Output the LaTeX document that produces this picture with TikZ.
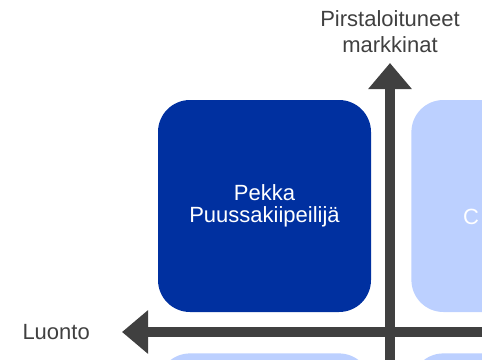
\documentclass[tikz,border=0pt]{standalone}
\usepackage{fontspec}
\setmainfont{Liberation Sans}
\usetikzlibrary{arrows.meta}
\usetikzlibrary{positioning}
\definecolor{tummasininen}{RGB}{0,48,160}
\definecolor{vaaleasininen}{RGB}{188,208,255}
\definecolor{akseliharmaa}{RGB}{64,64,64}

\begin{document}
\begin{tikzpicture}[x=1pt,y=-1pt,
    ruutu/.style={rounded corners=32pt, minimum width=213pt, minimum height=212pt, inner sep=0pt, align=center, text=white, font=\fontsize{22}{22}\selectfont},
    akseliteksti/.style={text=akseliharmaa, inner sep=0pt, align=center, font=\fontsize{22}{26}\selectfont},
    akselinuoli/.style={akseliharmaa, line width=10pt, -{Triangle[length=26pt,width=42pt]}}]
\useasboundingbox (0,0) rectangle (482,359);
\clip (0,0) rectangle (482,359);
% ruudut
\node[ruutu, fill=tummasininen] (pekka) at (264.5,206) {Pekka\\Puussakiipeilij\"a};
\node[ruutu, fill=vaaleasininen, right=40pt of pekka] (oikea) {};
\node[ruutu, fill=vaaleasininen, below=41pt of pekka] (alavasen) {};
\node[ruutu, fill=vaaleasininen, below=41pt of oikea] (alaoikea) {};
\node[text=white, inner sep=0pt, anchor=base west, font=\fontsize{22}{22}\selectfont] (c) at (463,224) {C};
% akselit
\coordinate (ylos) at (390,63);
\coordinate (ala) at (390,380);
\coordinate (vasen) at (122,332);
\coordinate (oikealla) at (500,332);
\draw[akselinuoli] (ala) -- (ylos);
\draw[akselinuoli] (oikealla) -- (vasen);
\node[akseliteksti, above=10pt of ylos] (markkinat) {Pirstaloituneet\\markkinat};
\node[akseliteksti, left=32pt of vasen] (luonto) {Luonto};
\end{tikzpicture}
\end{document}
